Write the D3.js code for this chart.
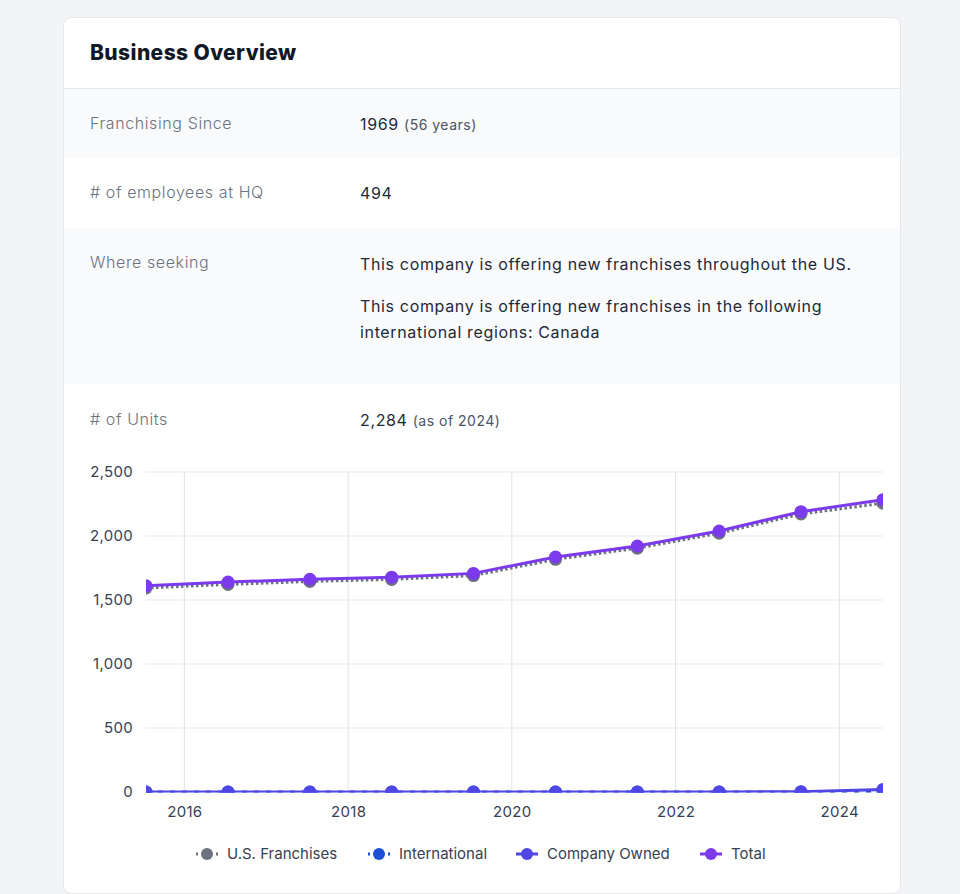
<!DOCTYPE html>
<html>
<head>
<meta charset="utf-8">
<script src="https://cdn.jsdelivr.net/npm/d3@7"></script>
<style>
  body { margin: 0; background: #f3f4f6; font-family: Inter, "Noto Sans", sans-serif; }
  .card { position: absolute; left: 63px; top: 17px; width: 838px; height: 877px; background: #fff;
          border-radius: 8px; border: 1px solid #e5e7eb; box-sizing: border-box; overflow: hidden; }
  .head { height: 71px; border-bottom: 1px solid #e5e7eb; box-sizing: border-box; padding-left: 26px;
          font-size: 21px; font-weight: 800; letter-spacing: 0.4px; color: #111827; line-height: 70px; }
  .row { position: relative; padding-left: 26px; box-sizing: border-box; }
  .row.alt { background: #f9fafb; }
  .lbl { position: absolute; left: 26px; font-size: 16px; font-weight: 300; letter-spacing: 0.6px; color: #6b7280; }
  .val { position: absolute; left: 296px; font-size: 16px; letter-spacing: 0.65px; color: #1f2937; line-height: 26px; }
  .val small { font-size: 14px; letter-spacing: 0.5px; color: #4b5563; }
  .val p { margin: 0 0 16px 0; }
  #chart { position: absolute; left: 0; top: 423px; }
</style>
</head>
<body>
<div class="card">
  <div class="head">Business Overview</div>
  <div class="row alt" style="height:69px">
    <div class="lbl" style="top:24px">Franchising Since</div>
    <div class="val" style="top:22px">1969 <small>(56 years)</small></div>
  </div>
  <div class="row" style="height:70px">
    <div class="lbl" style="top:24px">&#35; of employees at HQ</div>
    <div class="val" style="top:22px">494</div>
  </div>
  <div class="row alt" style="height:156px">
    <div class="lbl" style="top:24px">Where seeking</div>
    <div class="val" style="top:23px;width:520px">
      <p>This company is offering new franchises throughout the US.</p>
      <p>This company is offering new franchises in the following international regions: Canada</p>
    </div>
  </div>
  <div class="row" style="height:60px">
    <div class="lbl" style="top:25px">&#35; of Units</div>
    <div class="val" style="top:23px">2,284 <small>(as of 2024)</small></div>
  </div>
  <svg id="chart" width="838" height="454"></svg>
</div>
<script>
// unit counts by year
var years = [2015, 2016, 2017, 2018, 2019, 2020, 2021, 2022, 2023, 2024];
var usFranchises = [1594, 1622, 1645, 1661, 1691, 1818, 1905, 2022, 2172, 2256];
var international = [0, 0, 0, 0, 0, 0, 0, 0, 0, 0];
var companyOwned = [0, 0, 0, 0, 0, 0, 0, 0, 2, 20];
var total = [1611, 1640, 1662, 1678, 1708, 1836, 1922, 2039, 2190, 2284];
var yTicks = [0, 500, 1000, 1500, 2000, 2500];

var series = [
  {name: "U.S. Franchises", values: usFranchises, color: "#6b7280", dash: "2.5,2.5"},
  {name: "International", values: international, color: "#1d4ed8", dash: "5,7"},
  {name: "Company Owned", values: companyOwned, color: "#4f46e5", dash: null},
  {name: "Total", values: total, color: "#7c3aed", dash: null}
];

var margin = {top: 31, left: 82},
    width = 737, height = 320;

var svg = d3.select("#chart");
var g = svg.append("g").attr("transform", "translate(" + margin.left + "," + margin.top + ")");

function date(yr) { return new Date(yr, 6, 14); }

var x = d3.scaleTime()
  .domain([date(years[0]), date(years[years.length - 1])])
  .range([0, width]);
var y = d3.scaleLinear().domain([0, 2500]).range([height, 0]);

// grid
g.append("g").selectAll("line").data(yTicks).join("line")
  .attr("x1", 0).attr("x2", width)
  .attr("y1", d => y(d)).attr("y2", d => y(d))
  .attr("stroke", "#e5e7eb");
var xTicks = x.ticks(d3.timeYear.every(2));
g.append("g").selectAll("line").data(xTicks).join("line")
  .attr("x1", d => x(d)).attr("x2", d => x(d))
  .attr("y1", 0).attr("y2", height)
  .attr("stroke", "#dfe1e5");

// axes
var yAxis = g.append("g")
  .call(d3.axisLeft(y).tickValues(yTicks).tickSize(0).tickPadding(13).tickFormat(d3.format(",")));
var xAxis = g.append("g")
  .attr("transform", "translate(0," + height + ")")
  .call(d3.axisBottom(x).tickValues(xTicks).tickSize(0).tickPadding(14).tickFormat(d3.timeFormat("%Y")));
[yAxis, xAxis].forEach(function(a) {
  a.select(".domain").remove();
  a.selectAll("text").attr("fill", "#374151")
    .style("font-size", "15px").style("letter-spacing", "0.3px")
    .style("font-family", "Inter, sans-serif");
});

// lines + points, clipped to plot area
svg.append("defs").append("clipPath").attr("id", "clip")
  .append("rect").attr("width", width).attr("height", height + 0.5);
var plot = g.append("g").attr("clip-path", "url(#clip)");

var line = d3.line().x((d, i) => x(date(years[i]))).y(d => y(d));
series.forEach(function(s) {
  plot.append("path")
    .attr("d", line(s.values))
    .attr("fill", "none")
    .attr("stroke", s.color)
    .attr("stroke-width", 3)
    .attr("stroke-dasharray", s.dash);
  plot.append("g").selectAll("circle").data(s.values).join("circle")
    .attr("cx", (d, i) => x(date(years[i])))
    .attr("cy", d => y(d))
    .attr("r", 6.5)
    .attr("fill", s.color);
});

// legend (centres of markers)
var legendX = [143, 315, 463, 647];
var lg = svg.append("g").attr("transform", "translate(0,413)");
series.forEach(function(s, i) {
  var item = lg.append("g").attr("transform", "translate(" + legendX[i] + ",0)");
  item.append("line").attr("x1", -11).attr("x2", 11).attr("y1", 0).attr("y2", 0)
    .attr("stroke", s.color).attr("stroke-width", 3).attr("stroke-dasharray", s.dash ? "3,4" : null)
    .attr("stroke-dashoffset", s.dash ? 1 : null);
  item.append("circle").attr("r", 6).attr("fill", s.color);
  item.append("text").attr("x", 20).attr("y", 5)
    .attr("fill", "#374151").style("font-size", "15px")
    .text(s.name);
});
</script>
</body>
</html>
